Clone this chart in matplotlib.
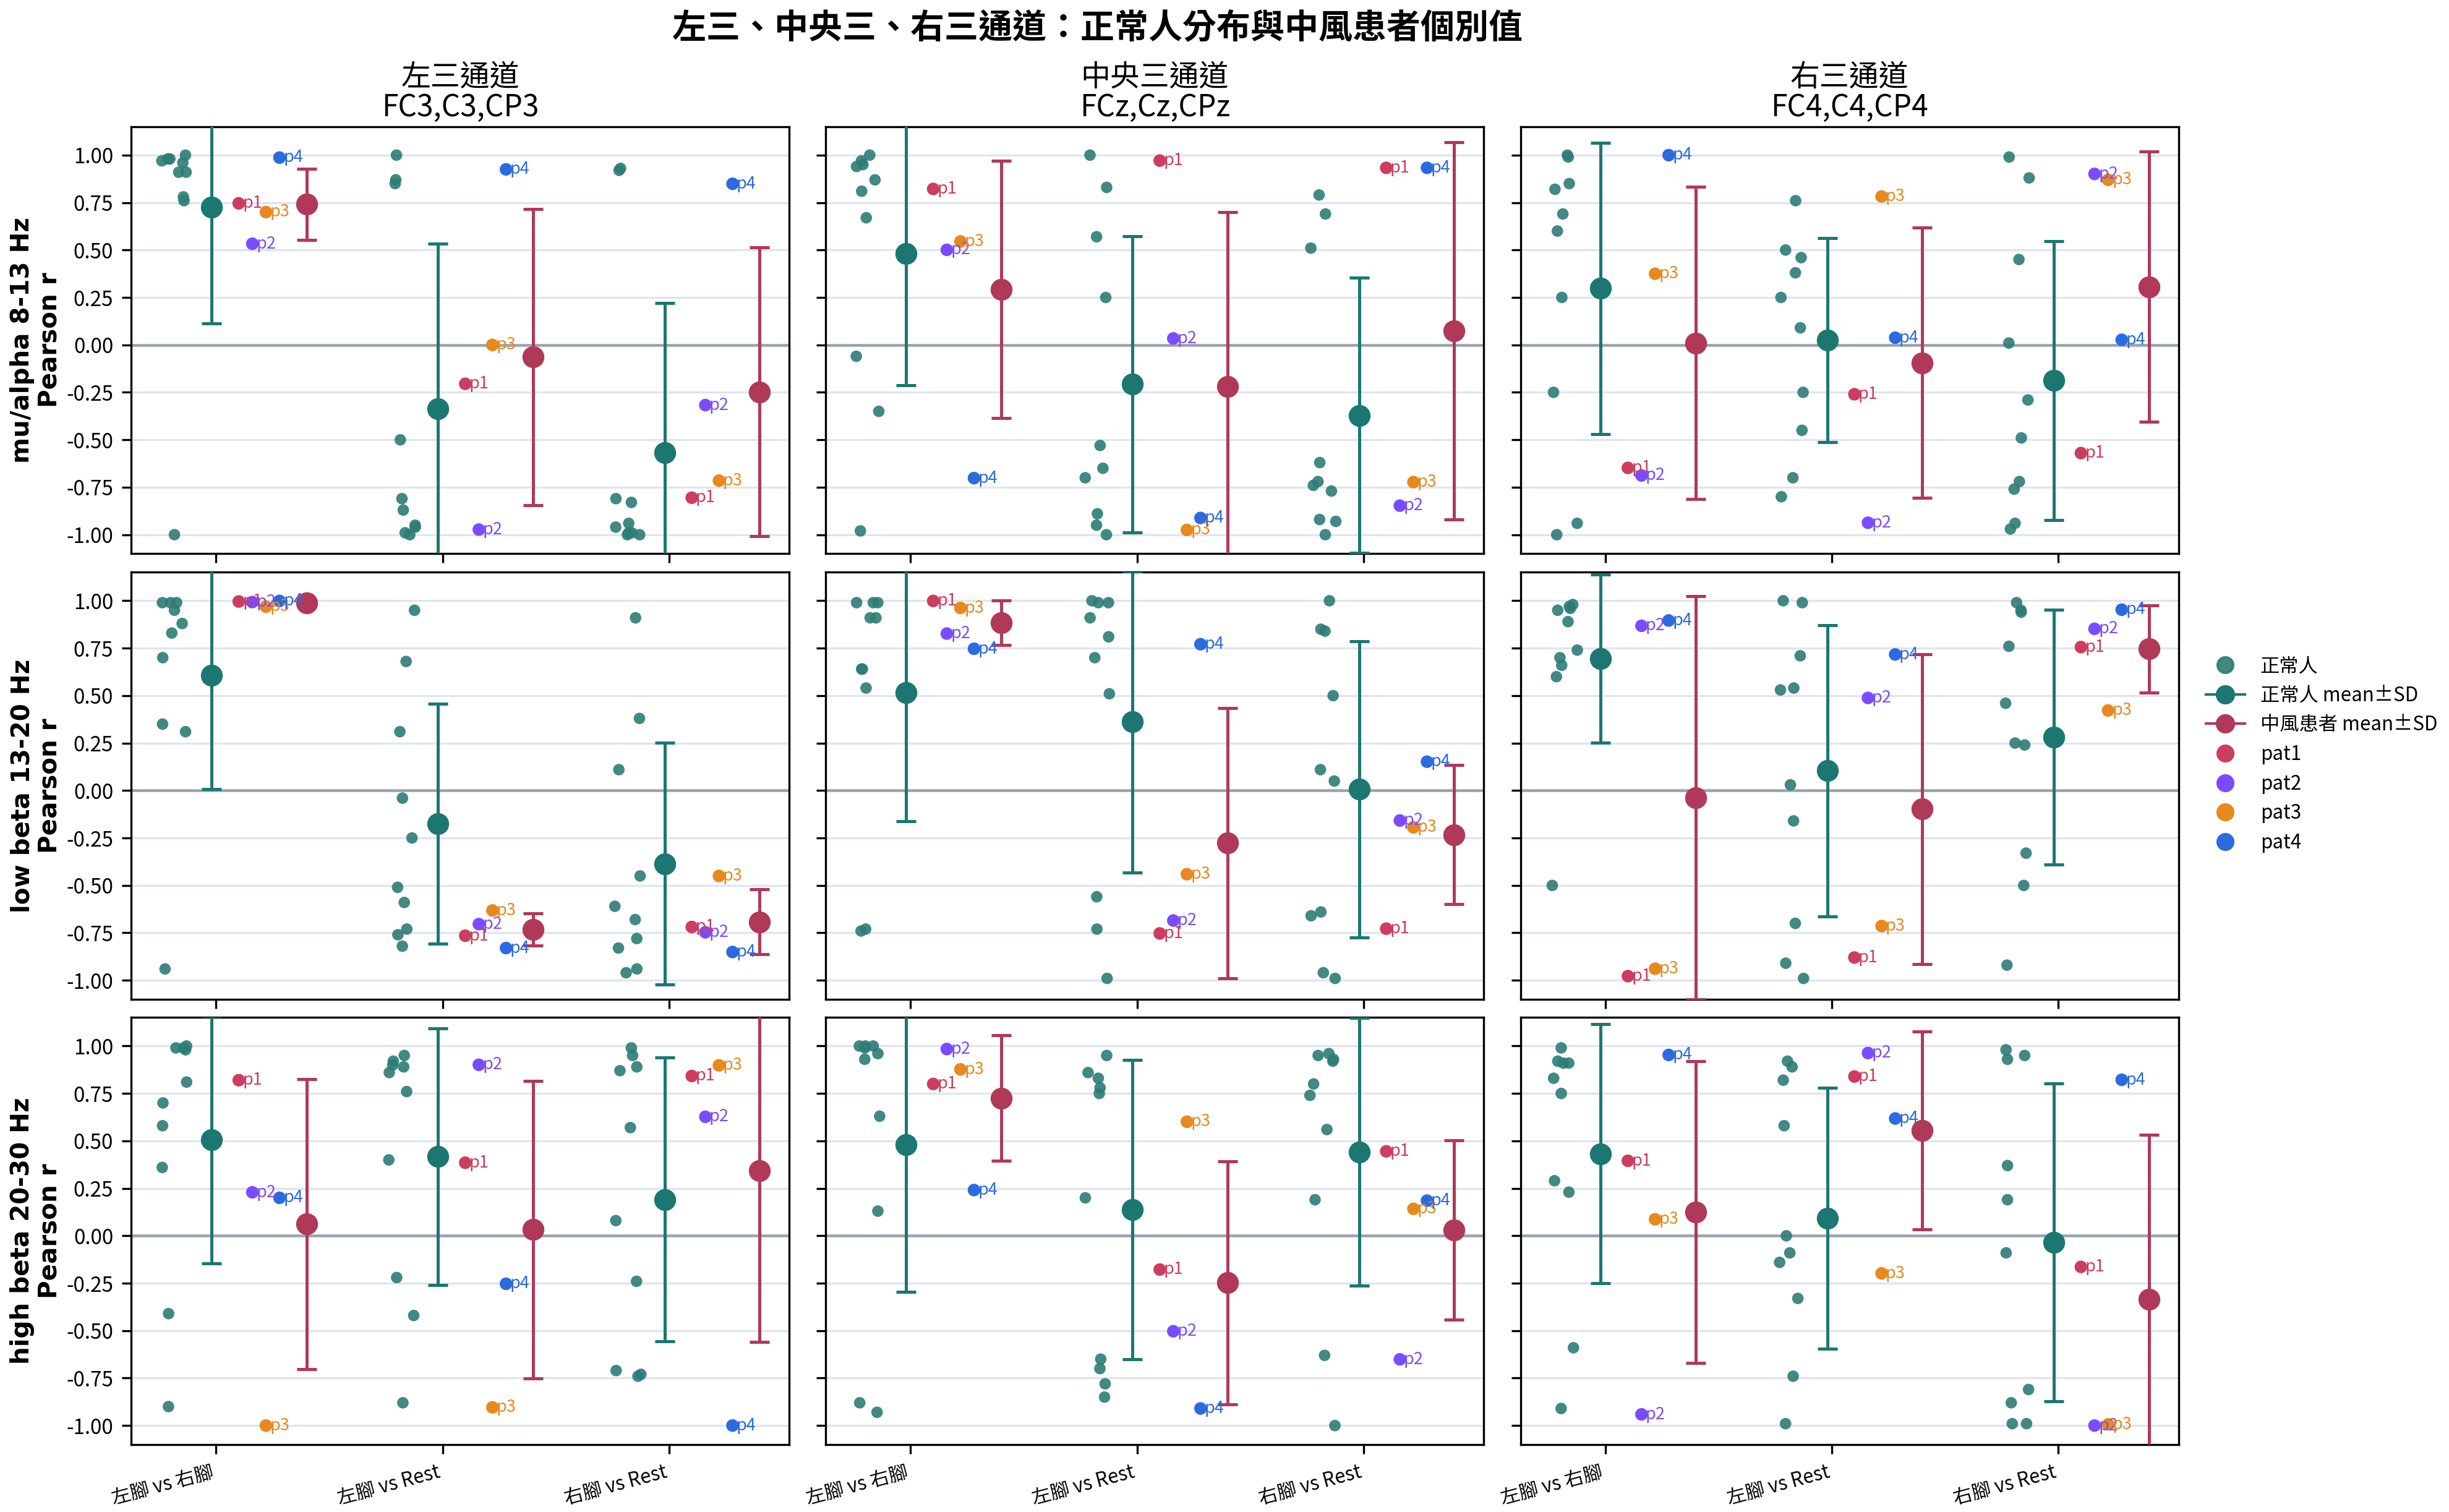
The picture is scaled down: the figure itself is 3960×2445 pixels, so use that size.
import numpy as np
import matplotlib
matplotlib.use("Agg")
import matplotlib.pyplot as plt
from matplotlib.lines import Line2D
from matplotlib.ticker import FormatStrFormatter

plt.rcParams['font.family'] = ['Noto Sans CJK TC', 'DejaVu Sans']
plt.rcParams['axes.unicode_minus'] = False

# ---------------- data ----------------
suptitle = "左三、中央三、右三通道：正常人分布與中風患者個別值"
bands = ["mu/alpha 8-13 Hz", "low beta 13-20 Hz", "high beta 20-30 Hz"]
regions = ["左三通道", "中央三通道", "右三通道"]
region_channels = ["FC3,C3,CP3", "FCz,Cz,CPz", "FC4,C4,CP4"]
conditions = ["左腳 vs 右腳", "左腳 vs Rest", "右腳 vs Rest"]
patient_names = ["pat1", "pat2", "pat3", "pat4"]
patient_short = ["p1", "p2", "p3", "p4"]

# normal subjects: [region][condition] -> values
normal_mu = [
    [[0.91, 0.91, 0.96, 0.98, 0.98, 1.00, 0.97, 0.76, 0.78, -1.00],
     [1.00, 0.87, 0.85, -0.50, -0.81, -0.87, -0.96, -1.00, -0.99, -0.95],
     [0.93, 0.92, -0.83, -0.81, -0.96, -0.94, -1.00, -1.00, -0.99, -0.99]],
    [[1.00, 0.95, 0.94, 0.97, 0.87, 0.81, 0.67, -0.06, -0.35, -0.98],
     [1.00, 0.83, 0.57, 0.25, -0.53, -0.65, -0.70, -0.89, -0.95, -1.00],
     [0.79, 0.69, 0.51, -0.62, -0.72, -0.74, -0.77, -0.92, -0.93, -1.00]],
    [[1.00, 0.99, 0.85, 0.82, 0.69, 0.60, 0.25, -0.25, -0.94, -1.00],
     [0.76, 0.50, 0.46, 0.38, 0.25, 0.09, -0.25, -0.45, -0.70, -0.80],
     [0.99, 0.88, 0.45, 0.01, -0.29, -0.49, -0.72, -0.76, -0.94, -0.97]],
]
normal_lowbeta = [
    [[0.70, 0.31, 0.95, 0.99, 0.99, 0.88, 0.99, 0.83, 0.35, -0.94],
     [0.95, 0.68, 0.31, -0.04, -0.25, -0.51, -0.59, -0.73, -0.76, -0.82],
     [0.91, 0.38, 0.11, -0.45, -0.61, -0.68, -0.78, -0.83, -0.96, -0.94]],
    [[0.99, 0.99, 0.99, 0.91, 0.91, 0.64, 0.64, 0.54, -0.74, -0.73],
     [0.99, 0.99, 1.00, 0.91, 0.81, 0.70, 0.51, -0.56, -0.73, -0.99],
     [1.00, 0.84, 0.85, 0.50, 0.11, 0.05, -0.66, -0.64, -0.96, -0.99]],
    [[0.95, 0.98, 0.97, 0.96, 0.89, 0.74, 0.70, 0.66, 0.60, -0.50],
     [1.00, 0.99, 0.71, 0.53, 0.54, 0.03, -0.16, -0.70, -0.91, -0.99],
     [0.99, 0.95, 0.94, 0.76, 0.46, 0.25, 0.24, -0.33, -0.50, -0.92]],
]
normal_highbeta = [
    [[1.00, 0.99, 0.98, 0.99, 0.81, 0.70, 0.58, 0.36, -0.41, -0.90],
     [0.92, 0.89, 0.86, 0.95, 0.90, 0.76, 0.40, -0.22, -0.42, -0.88],
     [0.89, 0.95, 0.99, 0.87, 0.57, 0.08, -0.24, -0.73, -0.74, -0.71]],
    [[1.00, 0.99, 1.00, 1.00, 0.96, 0.93, 0.63, 0.13, -0.88, -0.93],
     [0.95, 0.86, 0.83, 0.78, 0.75, 0.20, -0.65, -0.70, -0.78, -0.85],
     [0.95, 0.96, 0.92, 0.93, 0.80, 0.74, 0.56, 0.19, -0.63, -1.00]],
    [[0.99, 0.92, 0.91, 0.91, 0.83, 0.75, 0.29, 0.23, -0.59, -0.91],
     [0.92, 0.89, 0.82, 0.58, 0.00, -0.09, -0.14, -0.33, -0.74, -0.99],
     [0.98, 0.95, 0.93, 0.37, 0.19, -0.09, -0.81, -0.88, -0.99, -0.99]],
]

# normal group mean and SD: [region][condition]
normal_mean_mu = [[0.725, -0.337, -0.568], [0.482, -0.207, -0.371], [0.298, 0.025, -0.187]]
normal_sd_mu = [[0.612, 0.870, 0.790], [0.694, 0.781, 0.725], [0.768, 0.539, 0.735]]
normal_mean_lowbeta = [[0.608, -0.175, -0.386], [0.516, 0.362, 0.007], [0.695, 0.104, 0.281]]
normal_sd_lowbeta = [[0.601, 0.633, 0.637], [0.677, 0.794, 0.780], [0.443, 0.767, 0.672]]
normal_mean_highbeta = [[0.507, 0.417, 0.191], [0.479, 0.138, 0.442], [0.432, 0.092, -0.034]]
normal_sd_highbeta = [[0.652, 0.675, 0.748], [0.776, 0.788, 0.706], [0.682, 0.688, 0.837]]

# stroke patients (pat1..pat4): [region][condition]
patients_mu = [
    [[0.746, 0.533, 0.700, 0.987], [-0.205, -0.973, 0.000, 0.925], [-0.805, -0.317, -0.715, 0.849]],
    [[0.822, 0.501, 0.545, -0.702], [0.971, 0.034, -0.975, -0.912], [0.933, -0.847, -0.723, 0.933]],
    [[-0.648, -0.688, 0.375, 1.000], [-0.260, -0.937, 0.782, 0.038], [-0.570, 0.901, 0.870, 0.027]],
]
patients_lowbeta = [
    [[0.996, 0.993, 0.969, 0.999], [-0.765, -0.704, -0.632, -0.830], [-0.719, -0.747, -0.450, -0.851]],
    [[0.999, 0.827, 0.962, 0.747], [-0.753, -0.685, -0.441, 0.771], [-0.728, -0.158, -0.194, 0.152]],
    [[-0.978, 0.868, -0.939, 0.896], [-0.880, 0.488, -0.714, 0.717], [0.756, 0.852, 0.422, 0.953]],
]
patients_highbeta = [
    [[0.820, 0.229, -1.000, 0.200], [0.385, 0.901, -0.904, -0.253], [0.842, 0.627, 0.898, -1.000]],
    [[0.800, 0.984, 0.877, 0.241], [-0.178, -0.503, 0.601, -0.910], [0.445, -0.651, 0.142, 0.185]],
    [[0.395, -0.941, 0.087, 0.953], [0.839, 0.963, -0.198, 0.618], [-0.164, -1.000, -0.994, 0.822]],
]

normals_all = [normal_mu, normal_lowbeta, normal_highbeta]
nmean_all = [normal_mean_mu, normal_mean_lowbeta, normal_mean_highbeta]
nsd_all = [normal_sd_mu, normal_sd_lowbeta, normal_sd_highbeta]
pats_all = [patients_mu, patients_lowbeta, patients_highbeta]

# ---------------- style ----------------
NORMAL_C = '#2d7c76'
NORMAL_MEAN_C = '#1c7773'
PAT_MEAN_C = '#b0395a'
PAT_C = ['#cc3d5f', '#7b4cff', '#e8891d', '#2c6ae0']
GRID_C = '#dfe5ef'
ZERO_C = '#9aa4b0'

fig = plt.figure(figsize=(13.2, 8.15), dpi=300)
lefts = [0.05364, 0.33722, 0.62088]
bottoms = [0.63382, 0.33910, 0.04462]
W, H = 0.26869, 0.28241

rng = np.random.default_rng(7)
x_cond = np.arange(len(conditions))

for r in range(3):
    for c in range(3):
        ax = fig.add_axes([lefts[c], bottoms[r], W, H])
        ax.set_xlim(-0.374, 2.531)
        ax.set_ylim(-1.1, 1.15)
        ax.set_yticks(np.arange(-1.0, 1.01, 0.25))
        ax.yaxis.set_major_formatter(FormatStrFormatter('%.2f'))
        ax.yaxis.grid(True, color=GRID_C, lw=0.8, zorder=0)
        ax.set_axisbelow(True)
        ax.axhline(0, color=ZERO_C, lw=1.1, zorder=1)
        for sp in ax.spines.values():
            sp.set_linewidth(0.8)
        ax.tick_params(axis='both', labelsize=8, width=0.8, length=3.5)

        for i in x_cond:
            vals = np.array(normals_all[r][c][i])
            jit = i - 0.18 + rng.uniform(-0.06, 0.06, len(vals))
            ax.scatter(jit, vals, s=20, color=NORMAL_C, alpha=0.9,
                       edgecolors='none', zorder=2)
            ax.errorbar(i - 0.02, nmean_all[r][c][i], yerr=nsd_all[r][c][i],
                        fmt='o', color=NORMAL_MEAN_C, ms=7.5, capsize=3.8,
                        elinewidth=1.2, capthick=1.2, zorder=4)
            pv = np.array(pats_all[r][c][i])
            for k in range(4):
                px = i + 0.10 + 0.06 * k
                ax.scatter(px, pv[k], s=24, color=PAT_C[k], edgecolors='none', zorder=5)
                ax.annotate(patient_short[k], (px, pv[k]), xytext=(1.5, 0),
                            textcoords='offset points', fontsize=6.5,
                            color=PAT_C[k], va='center', ha='left', zorder=6)
            ax.errorbar(i + 0.40, pv.mean(), yerr=pv.std(ddof=1),
                        fmt='o', color=PAT_MEAN_C, ms=7.5, capsize=3.8,
                        elinewidth=1.2, capthick=1.2, zorder=4)

        ax.set_xticks(x_cond)
        if r == 2:
            ax.set_xticklabels(conditions, rotation=15, ha='right', fontsize=7.5)
        else:
            ax.set_xticklabels([])
        if c != 0:
            ax.set_yticklabels([])
        else:
            ax.set_ylabel(f"{bands[r]}\nPearson r", fontsize=9.7, fontweight='bold',
                          family='DejaVu Sans', linespacing=1.15)
            ax.yaxis.set_label_coords(-0.105, 0.5)
        if r == 0:
            ax.set_title(f"{regions[c]}\n{region_channels[c]}", fontsize=11.5, pad=4,
                         linespacing=1.0)

fig.text(0.448, 0.981, suptitle, ha='center', va='center', fontsize=13.2,
         fontweight='bold')

handles = [
    Line2D([], [], marker='o', ls='none', color=NORMAL_C, ms=6, alpha=0.9),
    Line2D([], [], marker='o', color=NORMAL_MEAN_C, ms=6.5, lw=1.0),
    Line2D([], [], marker='o', color=PAT_MEAN_C, ms=6.5, lw=1.0),
] + [Line2D([], [], marker='o', ls='none', color=PAT_C[k], ms=6) for k in range(4)]
labels = ["正常人", "正常人 mean±SD", "中風患者 mean±SD"] + patient_names
fig.legend(handles, labels, loc='center left', bbox_to_anchor=(0.9008, 0.501),
           frameon=False, fontsize=7.5, borderpad=0, borderaxespad=0,
           handletextpad=0.8)

fig.savefig("out.png", dpi=300)
